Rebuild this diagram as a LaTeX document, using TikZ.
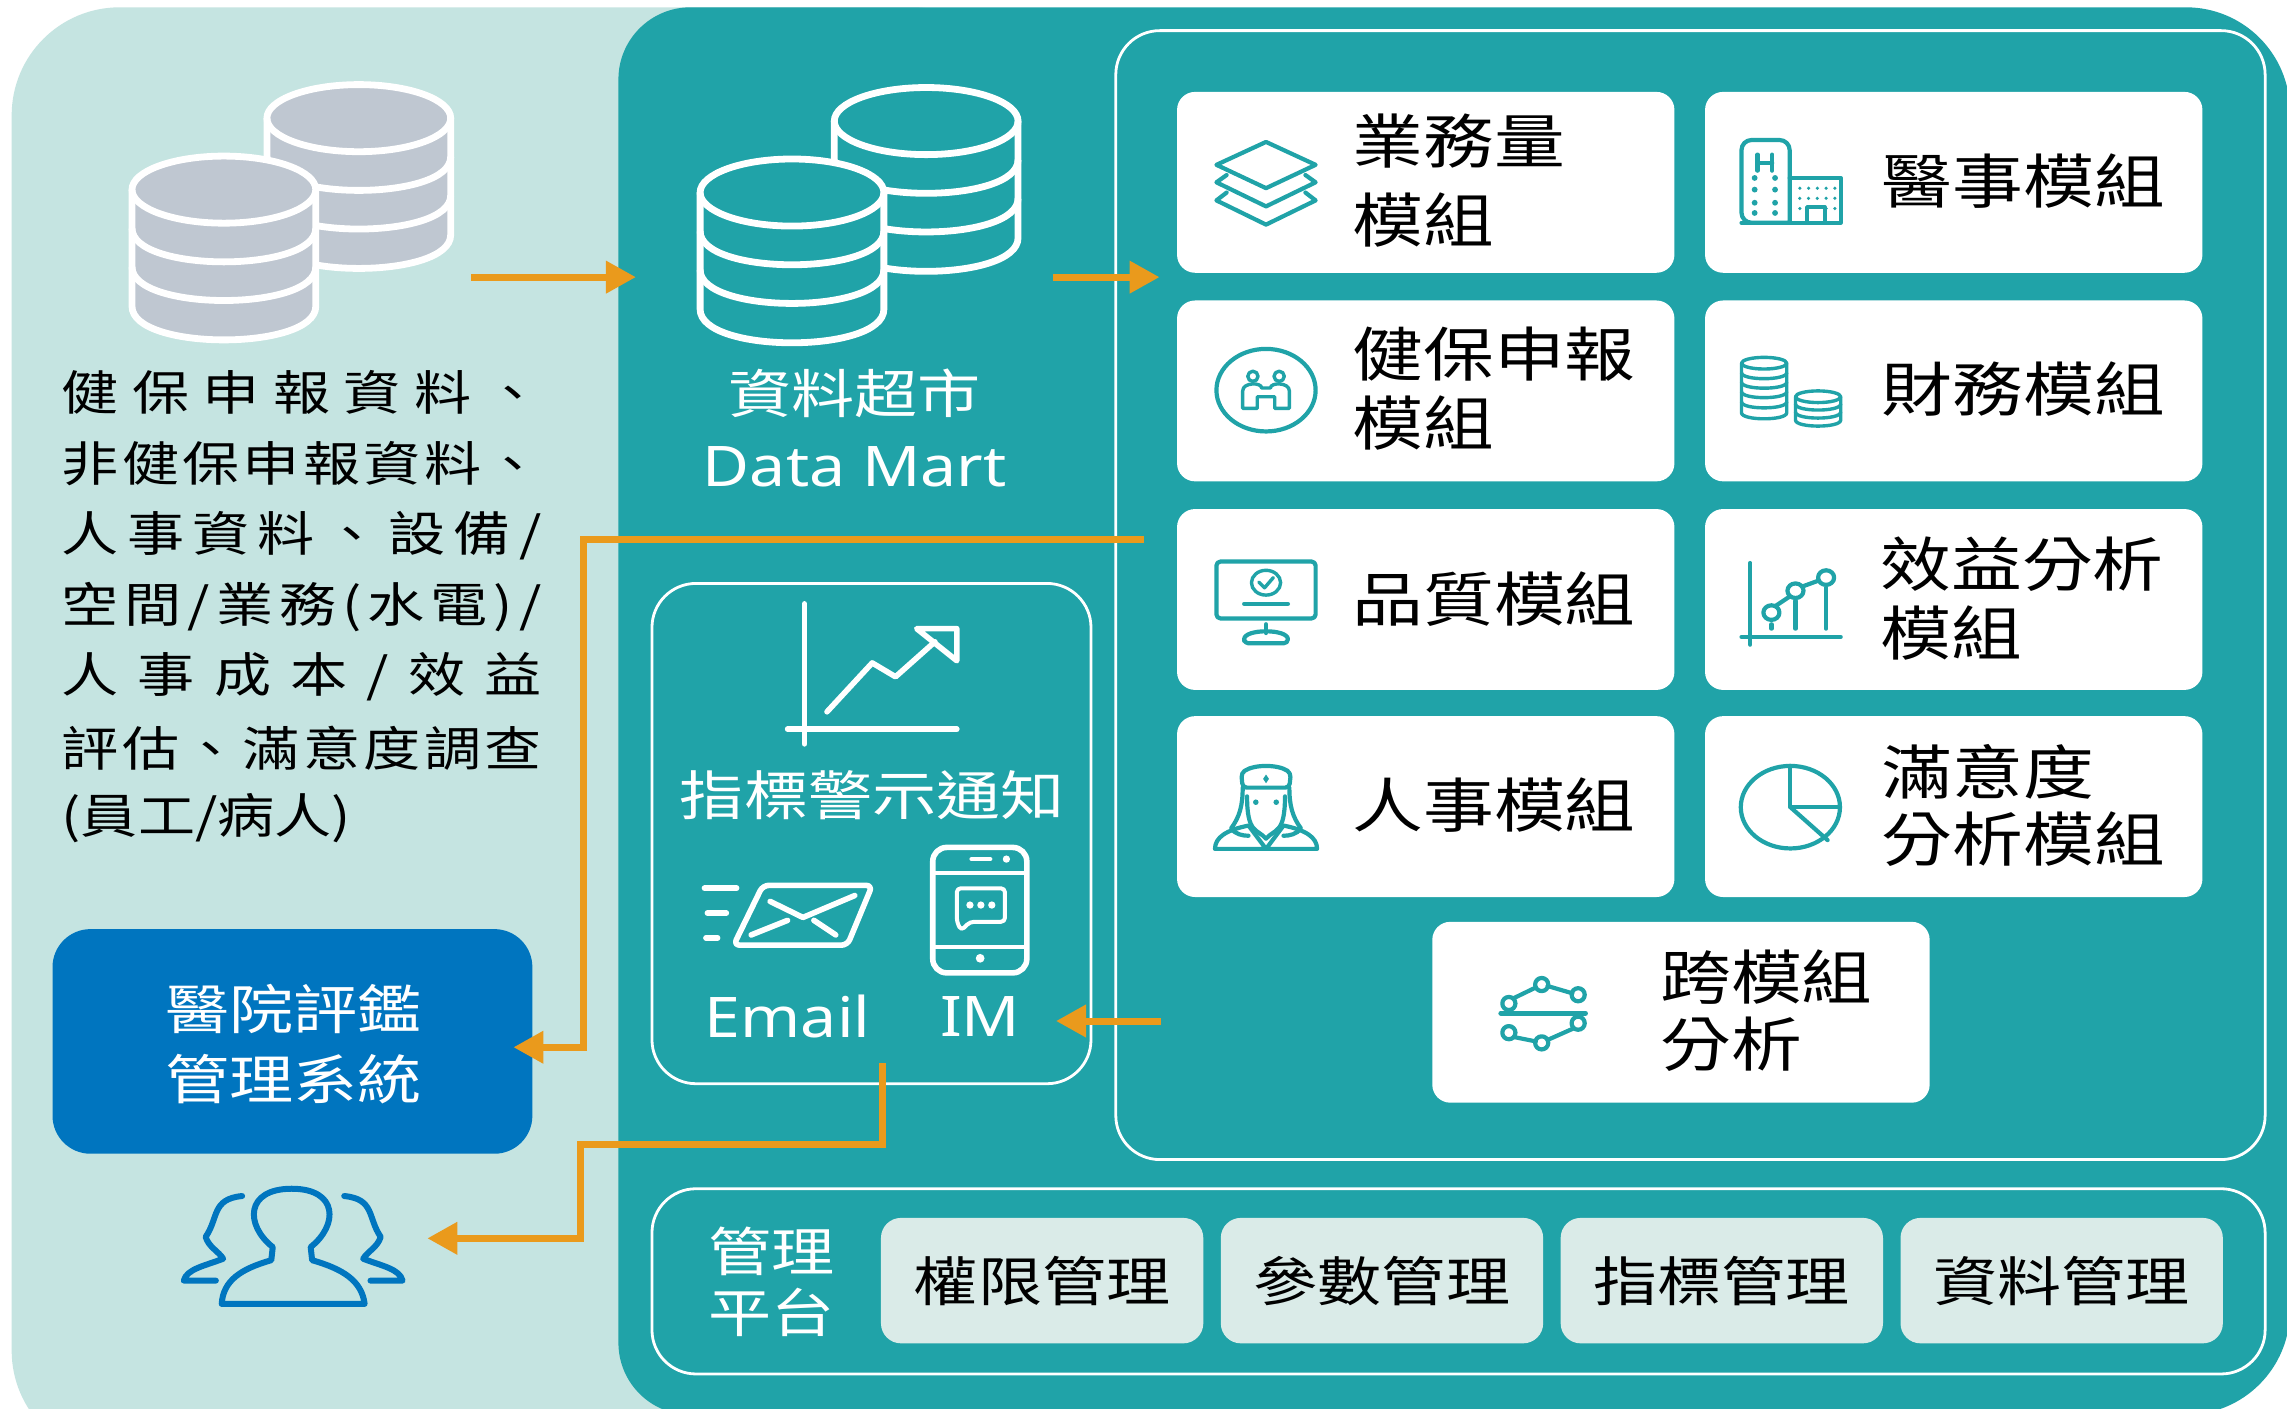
\documentclass[tikz,border=0pt]{standalone}
\usepackage{fontspec}
\setmainfont[FakeStretch=1.2]{Noto Sans CJK TC}
\newfontfamily\latinf[FakeStretch=1.15]{Noto Sans}
\usetikzlibrary{arrows.meta}
\definecolor{lightp}{HTML}{C5E4E1}
\definecolor{tealp}{HTML}{20A3A8}
\definecolor{orangep}{HTML}{EA9A1C}
\definecolor{bluep}{HTML}{0075BF}
\definecolor{cylg}{HTML}{BFC7D1}
\definecolor{subc}{HTML}{DAEBE8}
\newcommand{\fsz}[1]{\fontsize{#1pt}{#1pt}\selectfont}
\newcommand{\boxnode}[6]{\node[#6,minimum width={(#4-#2)*0.7293pt},minimum height={(#5-#3)*0.7293pt}] (#1) at ({(#2+#4)/2},{(#3+#5)/2}) {};}
\newcommand{\cyl}[3]{%
  \fill[#3] ({#1-63},#2) -- ({#1-63},{#2+80}) .. controls ({#1-63},{#2+110.7}) and ({#1+63},{#2+110.7}) .. ({#1+63},{#2+80}) -- ({#1+63},#2) .. controls ({#1+63},{#2-30.7}) and ({#1-63},{#2-30.7}) .. cycle;
  \draw[cylline] ({#1-63},#2) -- ({#1-63},{#2+80}) .. controls ({#1-63},{#2+110.7}) and ({#1+63},{#2+110.7}) .. ({#1+63},{#2+80}) -- ({#1+63},#2);
  \draw[cylline] (#1,#2) ellipse [x radius=63,y radius=23];
  \draw[cylline] ({#1-63},{#2+26.5}) .. controls ({#1-63},{#2+57.2}) and ({#1+63},{#2+57.2}) .. ({#1+63},{#2+26.5});
  \draw[cylline] ({#1-63},{#2+53}) .. controls ({#1-63},{#2+83.7}) and ({#1+63},{#2+83.7}) .. ({#1+63},{#2+53});
}
\newcommand{\J}[1]{\makebox[240pt][s]{#1}}
\newcommand{\g}{\hfill}
\tikzset{
  cylline/.style={draw=white,line width=3.4pt},
  card/.style={draw=none,fill=white,rounded corners=9pt,inner sep=0pt},
  subcard/.style={draw=none,fill=subc,rounded corners=10pt,inner sep=0pt},
  framebox/.style={draw=white,line width=1.4pt,fill=none,rounded corners=22pt,inner sep=0pt},
  bluebox/.style={draw=none,fill=bluep,rounded corners=19pt,inner sep=0pt},
  conn/.style={draw=orangep,line width=3.5pt},
  arr/.style={conn,-{Triangle[length=15pt,width=15.5pt,fill=orangep]}},
  modt/.style={anchor=west,inner sep=0pt,text=black,font=\fsz{29.5}},
  wht/.style={inner sep=0pt,text=white,font=\fsz{26.3}},
  whtb/.style={inner sep=0pt,text=white,font=\fsz{26.7}},
  mgt/.style={inner sep=0pt,text=black,font=\fsz{26.7}},
  lat/.style={inner sep=0pt,text=white,font=\latinf\fsz{28}},
  srct/.style={anchor=west,inner sep=0pt,text=black,font=\fsz{23.8}},
  ic/.style={draw=tealp,line width=2.1pt,line join=round,line cap=round},
  thin/.style={line width=1.7pt},
  wic/.style={draw=white,line width=2.8pt,line join=round,line cap=round},
  uic/.style={draw=bluep,line width=3pt,line join=round,line cap=round},
}
\begin{document}
\begin{tikzpicture}[x=0.7293pt,y=-0.7293pt]
\useasboundingbox (0,0) rectangle (1568,966);
\begin{scope}
\clip (0,0) rectangle (1568,966);
\fill[white] (0,0) rectangle (1568,966);
\fill[lightp,rounded corners=54pt] (8,5) rectangle (700,1000);
\fill[tealp,rounded corners=36pt] (700,970) -- (424,970) -- (424,5) -- (700,5) [rounded corners=52pt] -- (1570,5) -- (1570,970) -- cycle;
\end{scope}
% source cylinders
\cyl{246}{81}{cylg}
\cyl{153.5}{130}{cylg}
% data mart cylinders
\cyl{635}{83}{tealp}
\cyl{543}{132}{tealp}
% source text
\node[srct] (s1) at (42,269) {\J{健\g 保\g 申\g 報\g 資\g 料\g 、}};
\node[srct] (s2) at (42,318) {\J{非\g 健\g 保\g 申\g 報\g 資\g 料\g 、}};
\node[srct] (s3) at (42,367) {\J{人\g 事\g 資\g 料\g 、\g 設\g 備\g /}};
\node[srct] (s4) at (42,416) {\J{空\g 間\g /\g 業\g 務\g (\g 水\g 電\g )\g /}};
\node[srct] (s5) at (42,464) {\J{人\g 事\g 成\g 本\g /\g 效\g 益}};
\node[srct] (s6) at (42,513) {\J{評\g 估\g 、\g 滿\g 意\g 度\g 調\g 查}};
\node[srct] (s7) at (42,561) {(員工/病人)};
% data mart label
\node[wht] (dm1) at (586,270) {資料超市};
\node[lat] (dm2) at (586,320) {Data Mart};
% frames
\boxnode{modframe}{765}{21}{1553}{795}{framebox}
\boxnode{notify}{447}{400}{748}{743}{framebox}
\boxnode{mgmt}{447}{815}{1553}{942}{framebox}
% cards
\boxnode{c1}{807}{63}{1148}{187}{card}
\boxnode{c2}{1169}{63}{1510}{187}{card}
\boxnode{c3}{807}{206}{1148}{330}{card}
\boxnode{c4}{1169}{206}{1510}{330}{card}
\boxnode{c5}{807}{349}{1148}{473}{card}
\boxnode{c6}{1169}{349}{1510}{473}{card}
\boxnode{c7}{807}{491}{1148}{615}{card}
\boxnode{c8}{1169}{491}{1510}{615}{card}
\boxnode{c9}{982}{632}{1323}{756}{card}
% module text
\node[modt] (t1a) at (927,97) {業務量};
\node[modt] (t1b) at (927,151) {模組};
\node[modt] (t2) at (1290,124) {醫事模組};
\node[modt] (t3a) at (927,243) {健保申報};
\node[modt] (t3b) at (927,290) {模組};
\node[modt] (t4) at (1290,267) {財務模組};
\node[modt] (t5) at (927,411) {品質模組};
\node[modt] (t6a) at (1289,387) {效益分析};
\node[modt] (t6b) at (1289,434) {模組};
\node[modt] (t7) at (927,552) {人事模組};
\node[modt] (t8a) at (1290,529) {滿意度};
\node[modt] (t8b) at (1290,575) {分析模組};
\node[modt] (t9a) at (1138,670) {跨模組};
\node[modt] (t9b) at (1138,716) {分析};
% management
\node[wht] (m1) at (529,858) {管理};
\node[wht] (m2) at (529,900) {平台};
\boxnode{g1}{604}{835}{825}{921}{subcard}
\boxnode{g2}{837}{835}{1058}{921}{subcard}
\boxnode{g3}{1070}{835}{1291}{921}{subcard}
\boxnode{g4}{1303}{835}{1524}{921}{subcard}
\node[mgt] (g1t) at (g1) {權限管理};
\node[mgt] (g2t) at (g2) {參數管理};
\node[mgt] (g3t) at (g3) {指標管理};
\node[mgt] (g4t) at (g4) {資料管理};
% blue box
\boxnode{hosp}{36}{637}{365}{791}{bluebox}
\node[whtb] (h1) at (201,692) {醫院評鑑};
\node[whtb] (h2) at (201,740) {管理系統};
% notify contents
\node[whtb] (n1) at (598,545) {指標警示通知};
\node[lat] (n2) at (540,697) {Email};
\node[lat] (n3) at (672,697) {IM};
\draw[wic] (551.5,414) -- (551.5,510);
\draw[wic] (540,500) -- (656,500);
\draw[wic] (567,488) -- (598,454.5) -- (614,464) -- (641,440);
\draw[wic] (628.5,431) -- (656,431) -- (656,453) -- cycle;
\draw[wic,rounded corners=3pt] (523,607) -- (598,607) -- (581,648) -- (503,648) -- cycle;
\draw[wic] (528,618) -- (550.5,629) -- (586,614);
\draw[wic] (515,641) -- (540,631);
\draw[wic] (558,631) -- (573,641);
\draw[wic] (483,609) -- (505,609);
\draw[wic] (485,626) -- (498,626);
\draw[wic] (484,643) -- (492,643);
\draw[wic,rounded corners=7pt] (639.5,581) rectangle (704,667);
\draw[wic,line width=2pt] (639.5,598.5) -- (704,598.5);
\draw[wic,line width=2pt] (639.5,649) -- (704,649);
\draw[wic,line width=2pt] (666,589) -- (679,589);
\fill[white] (690,589) circle (2.5);
\fill[white] (672,657) circle (3);
\draw[wic,line width=2pt,rounded corners=2pt] (656,609) -- (689,609) -- (689,632) -- (665,632) -- (659,638) -- (656,632) -- cycle;
\foreach \dx in {665,672.5,680}{\fill[white] (\dx,620.5) circle (2.5);}
% people icon
\draw[uic] (152,894) -- (250,894) .. controls (248,878) and (235,870) .. (214,864) -- (213,855) .. controls (232,840) and (232,815) .. (200,815) .. controls (168,815) and (168,840) .. (187,855) -- (186,864) .. controls (165,870) and (153,878) .. cycle;
\draw[uic] (166,820) .. controls (145,822) and (150,835) .. (141,848) .. controls (143,855) and (150,858) .. (153,863) .. controls (140,868) and (128,870) .. (126,878) -- (148,878);
\draw[uic] (236,820) .. controls (257,822) and (252,835) .. (261,848) .. controls (259,855) and (252,858) .. (249,863) .. controls (262,868) and (274,870) .. (276,878) -- (254,878);
% icon: layers
\draw[ic] (834,113) -- (868,97.3) -- (902,113) -- (868,129) -- cycle;
\draw[ic] (841,120) -- (834,125) -- (868,141.5) -- (902,125) -- (895,120);
\draw[ic] (841,132) -- (834,137.4) -- (868,154) -- (902,137.4) -- (895,132);
% icon: hospital
\draw[ic,rounded corners=5pt] (1227,152.7) -- (1194,152.7) -- (1194,96) -- (1227,96) -- (1227,152.7);
\draw[ic] (1227,122) -- (1262,122) -- (1262,152.7) -- (1194,152.7);
\draw[ic] (1205,106) -- (1205,117) (1215,106) -- (1215,117) (1205,111.5) -- (1215,111.5);
\foreach \dy in {122,130,139,146}{\foreach \dx in {1203,1217}{\fill[tealp] (\dx,\dy) circle (2);}}
\foreach \dy in {129,136,143}{\foreach \dx in {1234,1240,1246,1252,1258}{\fill[tealp] (\dx,\dy) circle (1.2);}}
\fill[white] (1237,138) rectangle (1252,151);
\draw[ic] (1239,152.7) -- (1239,142) -- (1251,142) -- (1251,152.7);
% icon: insured
\draw[ic] (868,267.5) ellipse [x radius=34,y radius=28.3];
\draw[ic,thin] (859,258) circle (3.5) (877,258) circle (3.5);
\draw[ic,thin] (852,280) -- (852,268) .. controls (852,262) and (865,262) .. (865,266) -- (871,266) .. controls (871,262) and (884,262) .. (884,268) -- (884,280) -- (874,280) -- (874,272) -- (862,272) -- (862,280) -- cycle;
% icon: coins
\foreach \cx/\ya/\yb in {1209.5/249/283,1246.5/272/288}{
  \draw[ic,thin] ({\cx-15.5},\ya) -- ({\cx-15.5},\yb) .. controls ({\cx-15.5},{\yb+5.5}) and ({\cx+15.5},{\yb+5.5}) .. ({\cx+15.5},\yb) -- ({\cx+15.5},\ya);
  \draw[ic,thin] (\cx,\ya) ellipse [x radius=15.5,y radius=4];
}
\foreach \ly in {255.5,262,268.5,275.5}{\draw[ic,thin] (1194,\ly) .. controls (1194,{\ly+5.5}) and (1225,{\ly+5.5}) .. (1225,\ly);}
\foreach \ly in {277,282.5}{\draw[ic,thin] (1231,\ly) .. controls (1231,{\ly+5.5}) and (1262,{\ly+5.5}) .. (1262,\ly);}
% icon: monitor
\draw[ic,rounded corners=2pt] (834,385) rectangle (902,424);
\draw[ic,thin] (868,399.5) ellipse [x radius=10,y radius=8.5];
\draw[ic,thin] (863,399) -- (867,403) -- (873,396);
\draw[ic] (853,414) -- (883,414);
\draw[ic] (868,428) -- (868,434);
\draw[ic,rounded corners=2pt] (853,441) -- (883,441) .. controls (883,431) and (853,431) .. cycle;
% icon: growth
\draw[ic] (1200,386) -- (1200,442);
\draw[ic] (1194,436.7) -- (1262,436.7);
\draw[ic] (1214.5,420) ellipse [x radius=5.5,y radius=5];
\draw[ic] (1231,405) ellipse [x radius=5.5,y radius=5];
\draw[ic] (1252,396) ellipse [x radius=5.5,y radius=5];
\draw[ic] (1218,415) -- (1227,409) (1236,402) -- (1247,398);
\draw[ic] (1231,412) -- (1231,431) (1252,403) -- (1252,431) (1214.5,428) -- (1214.5,431);
% icon: nurse
\draw[ic,rounded corners=2pt] (851,530) .. controls (860,524) and (876,524) .. (885,530) -- (884,540) -- (852,540) -- cycle;
\fill[tealp] (868,531) -- (870,534) -- (868,537) -- (866,534) -- cycle;
\draw[ic] (852,540) .. controls (852,552) and (850,560) .. (844,568) .. controls (847,572) and (852,573) .. (856,573);
\draw[ic] (884,540) .. controls (884,552) and (886,560) .. (892,568) .. controls (889,572) and (884,573) .. (880,573);
\draw[ic] (855,546) .. controls (855,572) and (862,568) .. (868,575) .. controls (874,568) and (881,572) .. (881,546);
\fill[tealp] (861,550) circle (1.9) (875,550) circle (1.9);
\draw[ic] (833,582) -- (903,582) .. controls (903,574) and (895,569) .. (880,566) -- (868,582) -- (856,566) .. controls (841,569) and (833,574) .. cycle;
% icon: pie
\draw[ic] (1227.5,553.4) ellipse [x radius=34,y radius=28.3];
\draw[ic] (1227.5,525) -- (1227.5,553.4) -- (1261.5,553.4);
\draw[ic] (1227.5,553.4) -- (1253,576);
% icon: cross-module
\draw[ic] (1034.5,688) circle (4.5);
\draw[ic] (1057,675) circle (4.5);
\draw[ic] (1082,682) circle (4.5);
\draw[ic] (1034.5,708) circle (4.5);
\draw[ic] (1057,715) circle (4.5);
\draw[ic] (1082,701.5) circle (4.5);
\draw[ic] (1037.5,684.5) -- (1053,677) (1061,676) -- (1078,681);
\draw[ic] (1038,711) -- (1053,714) (1061,713) -- (1079,705);
\draw[ic,line width=2.5pt] (1029,694.7) -- (1087,694.7);
% connectors
\coordinate (a1) at (323,190);
\coordinate (a2) at (436,190);
\coordinate (b1) at (722,190);
\coordinate (b2) at (795,190);
\coordinate (d1) at (784,370);
\coordinate (d2) at (400,370);
\coordinate (d3) at (400,718);
\coordinate (d4) at (352,718);
\coordinate (e1) at (796,700);
\coordinate (e2) at (724,700);
\coordinate (f1) at (605,729);
\coordinate (f2) at (605,785);
\coordinate (f3) at (398,785);
\coordinate (f4) at (398,849);
\coordinate (f5) at (293,849);
\draw[arr] (a1) -- (a2);
\draw[arr] (b1) -- (b2);
\draw[arr] (d1) -- (d2) -- (d3) -- (d4);
\draw[arr] (e1) -- (e2);
\draw[arr] (f1) -- (f2) -- (f3) -- (f4) -- (f5);
\end{tikzpicture}
\end{document}
